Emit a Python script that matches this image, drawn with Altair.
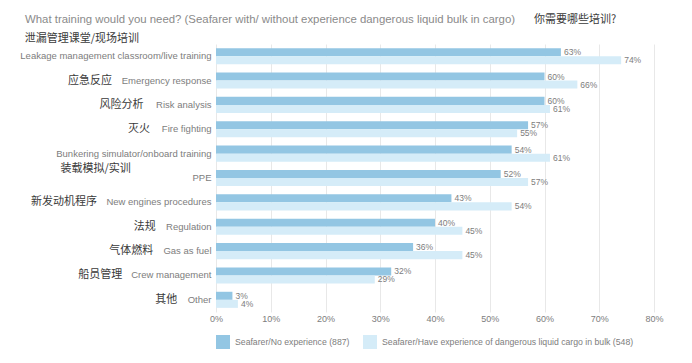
import altair as alt
import pandas as pd

categories_en = [
    "Leakage management classroom/live training",
    "Emergency response",
    "Risk analysis",
    "Fire fighting",
    "Bunkering simulator/onboard training",
    "PPE",
    "New engines procedures",
    "Regulation",
    "Gas as fuel",
    "Crew management",
    "Other",
]
categories_cn = [
    "泄漏管理课堂/现场培训",
    "应急反应",
    "风险分析",
    "灭火",
    "装载模拟/实训",
    "",
    "新发动机程序",
    "法规",
    "气体燃料",
    "船员管理",
    "其他",
]
series_names = [
    "Seafarer/No experience (887)",
    "Seafarer/Have experience of dangerous liquid cargo in bulk (548)",
]
no_experience = [63, 60, 60, 57, 54, 52, 43, 40, 36, 32, 3]
with_experience = [74, 66, 61, 55, 61, 57, 54, 45, 45, 29, 4]

title_en = "What training would you need? (Seafarer with/ without experience dangerous liquid bulk in cargo)"
title_cn = "你需要哪些培训?"

# ---------------- layout ----------------
W, H = 438, 268
X_MAX = 80
PX_PER_UNIT = W / X_MAX
EN_FONT = 9.5
LABEL_PAD = 5
GAP = 12
# Chinese labels placed on their own line (pixel shift relative to row centre)
CN_STACKED = {
    "Leakage management classroom/live training": -17,
    "Bunkering simulator/onboard training": 15,
}


def text_width(s, size):
    w = 0.0
    for ch in s:
        if ch in "iIljtf.,/' ":
            w += 0.26
        elif ch in "r":
            w += 0.35
        elif ch in "mwMW":
            w += 0.8
        elif ch.isupper():
            w += 0.65
        else:
            w += 0.52
    return w * size


rows = []
for en, a, b in zip(categories_en, no_experience, with_experience):
    rows.append({"cat": en, "series": series_names[0], "value": a, "label": f"{a}%"})
    rows.append({"cat": en, "series": series_names[1], "value": b, "label": f"{b}%"})
bars_df = pd.DataFrame(rows)

cn_inline, cn_up, cn_down = [], [], []
for en, cn in zip(categories_en, categories_cn):
    if not cn:
        continue
    w = text_width(en, EN_FONT)
    if en in CN_STACKED:
        xv = -(LABEL_PAD + w) / PX_PER_UNIT
        rec = {"cat": en, "cn": cn, "xv": xv}
        (cn_up if CN_STACKED[en] < 0 else cn_down).append(rec)
    else:
        xv = -(LABEL_PAD + w + GAP) / PX_PER_UNIT
        cn_inline.append({"cat": en, "cn": cn, "xv": xv})

y_enc = alt.Y(
    "cat:N",
    sort=categories_en,
    scale=alt.Scale(paddingInner=0.34, paddingOuter=0.17),
    axis=alt.Axis(
        title=None,
        domain=False,
        ticks=False,
        labelPadding=LABEL_PAD,
        labelFont="Liberation Sans",
        labelFontSize=EN_FONT,
        labelColor="#7d7d7d",
        labelLimit=300,
    ),
)
x_enc = alt.X(
    "value:Q",
    scale=alt.Scale(domain=[0, X_MAX], nice=False),
    axis=alt.Axis(
        title=None,
        values=list(range(0, 81, 10)),
        labelExpr="datum.value + '%'",
        labelFlush=False,
        domain=False,
        ticks=False,
        grid=True,
        gridColor="#e8e8e8",
        labelPadding=2,
        labelFont="Liberation Sans",
        labelFontSize=9,
        labelColor="#7d7d7d",
    ),
)
color_enc = alt.Color(
    "series:N",
    scale=alt.Scale(domain=series_names, range=["#93c6e3", "#d5ecf8"]),
    legend=alt.Legend(
        title=None,
        orient="none",
        legendX=0,
        legendY=291,
        direction="horizontal",
        symbolType="square",
        symbolSize=196,
        symbolStrokeWidth=0,
        labelFont="Liberation Sans",
        labelFontSize=8.7,
        labelColor="#7d7d7d",
        labelLimit=500,
        columnPadding=13,
        labelOffset=5,
    ),
)
yoff = alt.YOffset("series:N", sort=series_names, scale=alt.Scale(paddingInner=0, paddingOuter=0))

base = alt.Chart(bars_df)
bars = base.mark_bar().encode(y=y_enc, x=x_enc, color=color_enc, yOffset=yoff)
vals = base.mark_text(
    align="left", baseline="middle", dx=3, font="Liberation Sans", fontSize=8.5, color="#7d7d7d"
).encode(y=alt.Y("cat:N", sort=categories_en), x="value:Q", yOffset=yoff, text="label:N")

cn_x = alt.X("xv:Q")
cn_font = dict(font="Noto Sans CJK SC", fontSize=11, color="#3a3a3a", baseline="middle")
cn1 = alt.Chart(pd.DataFrame(cn_inline)).mark_text(align="right", **cn_font).encode(
    y=alt.Y("cat:N", sort=categories_en), x=cn_x, text="cn:N"
)
layers = [bars, vals, cn1]
if cn_up:
    layers.append(
        alt.Chart(pd.DataFrame(cn_up)).mark_text(align="left", dy=CN_STACKED[categories_en[0]], **cn_font).encode(
            y=alt.Y("cat:N", sort=categories_en), x=cn_x, text="cn:N"
        )
    )
if cn_down:
    layers.append(
        alt.Chart(pd.DataFrame(cn_down)).mark_text(align="left", dy=15, **cn_font).encode(
            y=alt.Y("cat:N", sort=categories_en), x=cn_x, text="cn:N"
        )
    )

title_en_mark = alt.Chart(pd.DataFrame({"t": [title_en]})).mark_text(
    align="left", baseline="middle", font="Liberation Sans", fontSize=11.4, color="#8a8a8a"
).encode(x=alt.value(-191), y=alt.value(-24), text="t:N")
title_cn_mark = alt.Chart(pd.DataFrame({"t": [title_cn]})).mark_text(
    align="left", baseline="middle", font="Noto Sans CJK SC", fontSize=11, color="#3a3a3a"
).encode(x=alt.value(318), y=alt.value(-24), text="t:N")
layers += [title_en_mark, title_cn_mark]

chart = (
    alt.layer(*layers)
    .properties(
        width=W,
        height=H,
        autosize=alt.AutoSizeParams(type="none"),
        padding={"left": 208, "top": 36, "right": 30, "bottom": 43},
    )
    .configure_view(stroke=None)
)

chart.save("out.html", embed_options={"renderer": "svg", "actions": False})
